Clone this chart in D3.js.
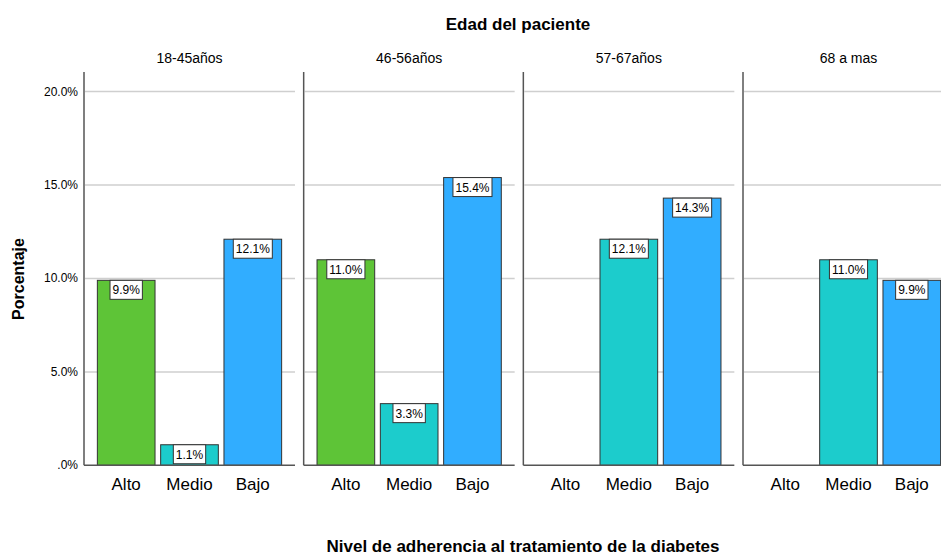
<!DOCTYPE html>
<html>
<head>
<meta charset="utf-8">
<script src="https://cdn.jsdelivr.net/npm/d3@7"></script>
<style>
  body { margin: 0; background: #fff; }
  text { font-family: Arial, "Liberation Sans", sans-serif; fill: #000; }
</style>
</head>
<body>
<div id="chart"></div>
<script>
// data
var ages = ["18-45años", "46-56años", "57-67años", "68 a mas"];
var levels = ["Alto", "Medio", "Bajo"];
var alto  = [9.9, 11.0, null, null];
var medio = [1.1, 3.3, 12.1, 11.0];
var bajo  = [12.1, 15.4, 14.3, 9.9];
var yTicks = [0, 5, 10, 15, 20];
var colors = {Alto: "#5ec437", Medio: "#1ccccc", Bajo: "#31adff"};

var width = 941, height = 556;

var svg = d3.select("#chart")
  .append("svg")
    .attr("width", width)
    .attr("height", height);

// panel scale (facets by age)
var fx = d3.scaleBand()
  .domain(ages)
  .range([84, 954])
  .paddingInner(0.0395)
  .paddingOuter(0);

// bar scale inside a panel
var x = d3.scaleBand()
  .domain(levels)
  .range([0, fx.bandwidth()])
  .paddingInner(0.089)
  .paddingOuter(0.211);

var yMax = 21.05;
var y = d3.scaleLinear()
  .domain([0, yMax])
  .range([465.3, 72]);

var series = {Alto: alto, Medio: medio, Bajo: bajo};

// titles
svg.append("text")
  .attr("x", 518).attr("y", 30)
  .attr("text-anchor", "middle")
  .style("font-size", "17px").style("font-weight", "bold")
  .text("Edad del paciente");

svg.append("text")
  .attr("x", 523).attr("y", 552)
  .attr("text-anchor", "middle")
  .style("font-size", "17px").style("font-weight", "bold")
  .text("Nivel de adherencia al tratamiento de la diabetes");

svg.append("text")
  .attr("transform", "translate(24,279) rotate(-90)")
  .attr("text-anchor", "middle")
  .style("font-size", "16px").style("font-weight", "bold")
  .text("Porcentaje");

// y tick labels (only left of first panel)
svg.append("g")
  .selectAll("text")
  .data(yTicks)
  .enter()
  .append("text")
    .attr("x", 78)
    .attr("y", function (d) { return y(d) + 4; })
    .attr("text-anchor", "end")
    .style("font-size", "12px")
    .text(function (d) { return d === 0 ? ".0%" : d.toFixed(1) + "%"; });

ages.forEach(function (age, i) {
  var g = svg.append("g")
    .attr("transform", "translate(" + fx(age) + ",0)");
  var w = fx.bandwidth();

  // panel title
  g.append("text")
    .attr("x", w / 2).attr("y", 63)
    .attr("text-anchor", "middle")
    .style("font-size", "14px")
    .text(age);

  // gridlines
  g.selectAll(".grid")
    .data(yTicks.filter(function (d) { return d > 0; }))
    .enter()
    .append("line")
      .attr("x1", 1).attr("x2", w)
      .attr("y1", function (d) { return y(d); })
      .attr("y2", function (d) { return y(d); })
      .style("stroke", "#cfcfcf")
      .style("stroke-width", 1.5);

  // bars
  var rows = levels.map(function (l) { return {level: l, value: series[l][i]}; })
    .filter(function (d) { return d.value != null; });

  g.selectAll(".bar")
    .data(rows)
    .enter()
    .append("rect")
      .attr("x", function (d) { return x(d.level); })
      .attr("y", function (d) { return y(d.value); })
      .attr("width", x.bandwidth())
      .attr("height", function (d) { return y(0) - y(d.value); })
      .style("fill", function (d) { return colors[d.level]; })
      .style("stroke", "#333")
      .style("stroke-width", 1);

  // value labels in boxes
  var lab = g.selectAll(".lab")
    .data(rows)
    .enter()
    .append("g")
      .attr("transform", function (d) {
        return "translate(" + (x(d.level) + x.bandwidth() / 2) + "," + y(d.value) + ")";
      });
  lab.append("text")
    .attr("y", 14)
    .attr("text-anchor", "middle")
    .style("font-size", "12px")
    .text(function (d) { return d.value.toFixed(1) + "%"; });
  lab.insert("rect", "text")
    .attr("y", 0)
    .attr("height", 19)
    .attr("width", function () {
      return this.parentNode.querySelector("text").getComputedTextLength() + 5;
    })
    .attr("x", function () {
      return -(this.parentNode.querySelector("text").getComputedTextLength() + 5) / 2;
    })
    .style("fill", "#fff")
    .style("stroke", "#333");

  // axes lines
  g.append("line")
    .attr("x1", 0).attr("x2", 0)
    .attr("y1", y(0)).attr("y2", y(yMax))
    .style("stroke", "#555").style("stroke-width", 1.5);
  g.append("line")
    .attr("x1", 0).attr("x2", w)
    .attr("y1", y(0)).attr("y2", y(0))
    .style("stroke", "#555").style("stroke-width", 1.5);

  // category labels
  g.selectAll(".cat")
    .data(levels)
    .enter()
    .append("text")
      .attr("x", function (d) { return x(d) + x.bandwidth() / 2; })
      .attr("y", 490)
      .attr("text-anchor", "middle")
      .style("font-size", "17px")
      .text(function (d) { return d; });
});
</script>
</body>
</html>
